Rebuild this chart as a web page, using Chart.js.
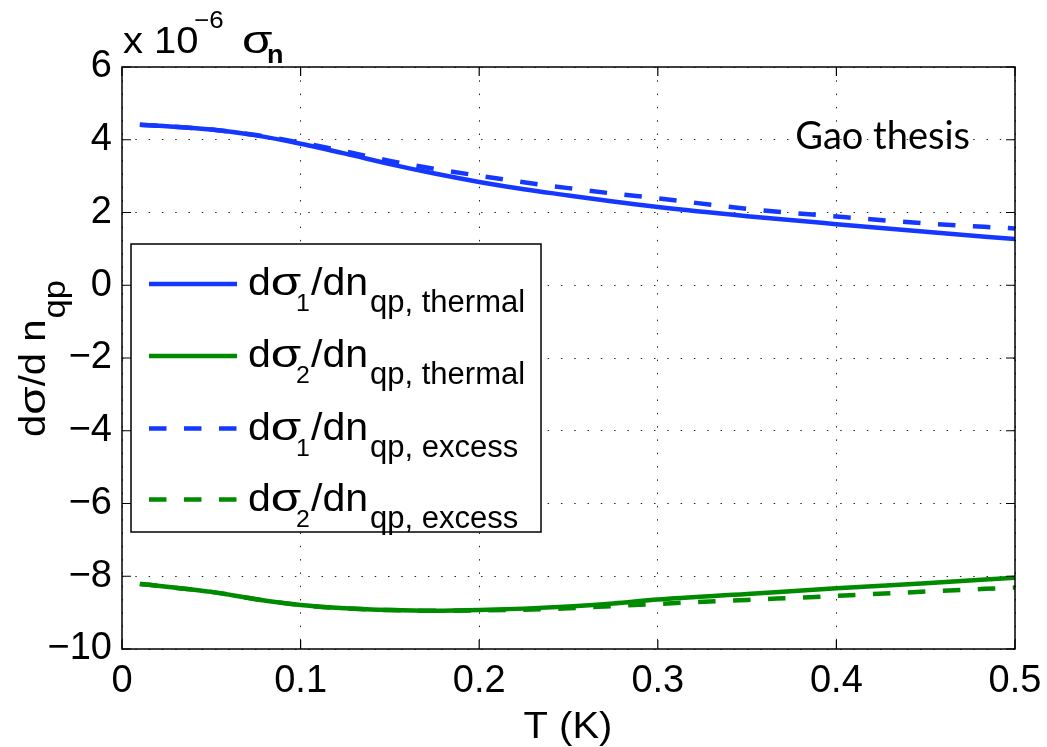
<!DOCTYPE html>
<html>
<head>
<meta charset="utf-8">
<script src="https://cdn.jsdelivr.net/npm/chart.js@4.4.1/dist/chart.umd.min.js"></script>
<style>
  html, body { margin: 0; padding: 0; background: #fff; }
  canvas { display: block; }
</style>
</head>
<body>
<canvas id="chart" width="1047" height="747"></canvas>
<script>
// Temperature samples (K) and quasiparticle responsivities (units of 1e-6 sigma_n)
const temperatureK   = [0.01, 0.025, 0.05, 0.075, 0.1, 0.125, 0.15, 0.175, 0.2, 0.225, 0.25, 0.275, 0.3, 0.35, 0.4, 0.45, 0.5];
const dSigma1Thermal = [4.41, 4.37, 4.28, 4.12, 3.89, 3.62, 3.33, 3.07, 2.84, 2.64, 2.47, 2.30, 2.15, 1.90, 1.68, 1.47, 1.27];
const dSigma2Thermal = [-8.21, -8.29, -8.43, -8.63, -8.79, -8.88, -8.93, -8.95, -8.93, -8.89, -8.83, -8.75, -8.64, -8.49, -8.33, -8.19, -8.04];
const dSigma1Excess  = [4.41, 4.37, 4.28, 4.13, 3.92, 3.68, 3.42, 3.20, 3.01, 2.83, 2.67, 2.52, 2.39, 2.10, 1.89, 1.70, 1.56];
const dSigma2Excess  = [-8.21, -8.29, -8.43, -8.63, -8.79, -8.88, -8.93, -8.95, -8.94, -8.92, -8.88, -8.82, -8.76, -8.65, -8.54, -8.42, -8.31];

const xTickValues = [0, 0.1, 0.2, 0.3, 0.4, 0.5];
const xTickLabels = ['0', '0.1', '0.2', '0.3', '0.4', '0.5'];
const yTickValues = [-10, -8, -6, -4, -2, 0, 2, 4, 6];
const yTickLabels = ['\u221210', '\u22128', '\u22126', '\u22124', '\u22122', '0', '2', '4', '6'];

// Legend entries: conductivity component index and quasiparticle source
const sigmaIndex = ['1', '2', '1', '2'];
const qpSource   = ['qp, thermal', 'qp, thermal', 'qp, excess', 'qp, excess'];

const SANS = '"Liberation Sans", Arial, Helvetica, sans-serif';
const BLUE = '#1538ff';
const GREEN = '#008a00';
const DASH = [17.5, 17.5];

const points = ys => temperatureK.map((t, i) => ({ x: t, y: ys[i] }));

// Draws a sequence of text runs (with sub/superscript offsets) left to right
function drawRuns(ctx, x, y, runs, sx) {
  let cx = x;
  for (const r of runs) {
    if (r.at !== undefined) cx = r.at;
    const k = r.sx || sx || 1;
    ctx.font = (r.bold ? 'bold ' : '') + r.size + 'px ' + (r.family || SANS);
    ctx.save();
    ctx.translate(cx, y + (r.dy || 0));
    ctx.scale(k, 1);
    ctx.fillText(r.text, 0, 0);
    ctx.restore();
    cx += ctx.measureText(r.text).width * k + (r.gap || 0);
  }
  return cx;
}

const decorations = {
  id: 'decorations',
  afterDatasetsDraw(chart) {
    const { ctx, chartArea: a, scales } = chart;
    const xs = scales.x, ys = scales.y;
    ctx.save();

    // axes box with inward tick marks on all four sides
    ctx.strokeStyle = '#000';
    ctx.lineWidth = 1.5;
    ctx.strokeRect(a.left, a.top, a.right - a.left, a.bottom - a.top);
    const tl = 9;
    ctx.lineWidth = 1.2;
    ctx.beginPath();
    xTickValues.forEach(v => {
      const px = xs.getPixelForValue(v);
      ctx.moveTo(px, a.bottom); ctx.lineTo(px, a.bottom - tl);
      ctx.moveTo(px, a.top); ctx.lineTo(px, a.top + tl);
    });
    yTickValues.forEach(v => {
      const py = ys.getPixelForValue(v);
      ctx.moveTo(a.left, py); ctx.lineTo(a.left + tl, py);
      ctx.moveTo(a.right, py); ctx.lineTo(a.right - tl, py);
    });
    ctx.stroke();

    // legend box
    const lx = 131, ly = 244, lw = 410, lh = 288;
    ctx.fillStyle = '#fff';
    ctx.fillRect(lx, ly, lw, lh);
    ctx.lineWidth = 1.5;
    ctx.strokeStyle = '#000';
    ctx.strokeRect(lx, ly, lw, lh);
    const rowY = [284, 356, 428.5, 499.5];
    chart.data.datasets.forEach((ds, i) => {
      const y = rowY[i];
      ctx.save();
      ctx.strokeStyle = ds.borderColor;
      ctx.lineWidth = ds.borderWidth;
      ctx.setLineDash(ds.borderDash || []);
      ctx.beginPath();
      ctx.moveTo(149, y); ctx.lineTo(237, y);
      ctx.stroke();
      ctx.restore();
      ctx.fillStyle = '#000';
      ctx.textBaseline = 'alphabetic';
      drawRuns(ctx, 248, y + 11, [
        { text: 'd', size: 38 },
        { text: '\u03c3', size: 38, sx: 1.3 },
        { text: sigmaIndex[i], size: 23, dy: 16, at: 296 },
        { text: '/dn', size: 38, gap: 2, at: 311 },
        { text: qpSource[i], size: 31, dy: 17, sx: 1.0 }
      ], 1.08);
    });

    // annotation
    ctx.fillStyle = '#000';
    ctx.font = '38px Lato, "Open Sans", sans-serif';
    ctx.textAlign = 'right';
    ctx.fillText('Gao thesis', 970, 149);
    ctx.textAlign = 'left';

    // axis multiplier above the plot
    drawRuns(ctx, 123, 53, [
      { text: 'x 10', size: 37 },
      { text: '\u22126', size: 24, dy: -25, at: 194 },
      { text: '\u03c3', size: 38, sx: 1.3, at: 242 },
      { text: 'n', size: 25, bold: true, dy: 10, at: 267 }
    ], 1.08);

    // y-axis title, rotated
    ctx.save();
    ctx.translate(45, 437);
    ctx.rotate(-Math.PI / 2);
    drawRuns(ctx, 0, 0, [
      { text: 'd', size: 37 },
      { text: '\u03c3', size: 37, sx: 1.25 },
      { text: '/d n', size: 37, gap: 1 },
      { text: 'qp', size: 32, dy: 20 }
    ], 1.08);
    ctx.restore();

    // x-axis title
    ctx.font = '37px ' + SANS;
    ctx.textAlign = 'center';
    ctx.save();
    ctx.translate(568, 738);
    ctx.scale(1.08, 1);
    ctx.fillText('T (K)', 0, 0);
    ctx.restore();

    ctx.restore();
  }
};

const axisCommon = {
  type: 'linear',
  grid: { color: 'rgba(0,0,0,0.85)', lineWidth: 1, drawTicks: false },
  border: { display: false, dash: [1.5, 11.8] }
};

new Chart(document.getElementById('chart'), {
  type: 'line',
  data: {
    datasets: [
      { label: 'd\u03c31/dn qp, thermal', data: points(dSigma1Thermal), borderColor: BLUE, borderWidth: 4.5, order: 1 },
      { label: 'd\u03c32/dn qp, thermal', data: points(dSigma2Thermal), borderColor: GREEN, borderWidth: 4.5, order: 1 },
      { label: 'd\u03c31/dn qp, excess', data: points(dSigma1Excess), borderColor: BLUE, borderWidth: 4.5, borderDash: DASH, order: 0 },
      { label: 'd\u03c32/dn qp, excess', data: points(dSigma2Excess), borderColor: GREEN, borderWidth: 4.5, borderDash: DASH, order: 0 }
    ]
  },
  options: {
    responsive: false,
    animation: false,
    devicePixelRatio: 1,
    datasets: { line: { pointRadius: 0, fill: false, cubicInterpolationMode: 'monotone', borderCapStyle: 'butt' } },
    layout: { padding: { top: 67, right: 32, left: 0, bottom: 0 } },
    plugins: { legend: { display: false }, tooltip: { enabled: false } },
    scales: {
      x: {
        ...axisCommon,
        min: 0, max: 0.5,
        afterBuildTicks: s => { s.ticks = xTickValues.map(v => ({ value: v })); },
        afterFit: s => { s.height = 98; s.paddingLeft = 0; s.paddingRight = 0; },
        ticks: {
          callback: (v, i) => xTickLabels[i],
          font: { family: SANS, size: 38 }, color: '#000',
          padding: 10, maxRotation: 0, autoSkip: false
        }
      },
      y: {
        ...axisCommon,
        min: -10, max: 6,
        afterBuildTicks: s => { s.ticks = yTickValues.map(v => ({ value: v })); },
        afterFit: s => { s.width = 122; s.paddingTop = 0; s.paddingBottom = 0; },
        ticks: {
          callback: (v, i) => yTickLabels[i],
          font: { family: SANS, size: 38 }, color: '#000',
          padding: 10, autoSkip: false
        }
      }
    }
  },
  plugins: [decorations]
});
</script>
</body>
</html>
